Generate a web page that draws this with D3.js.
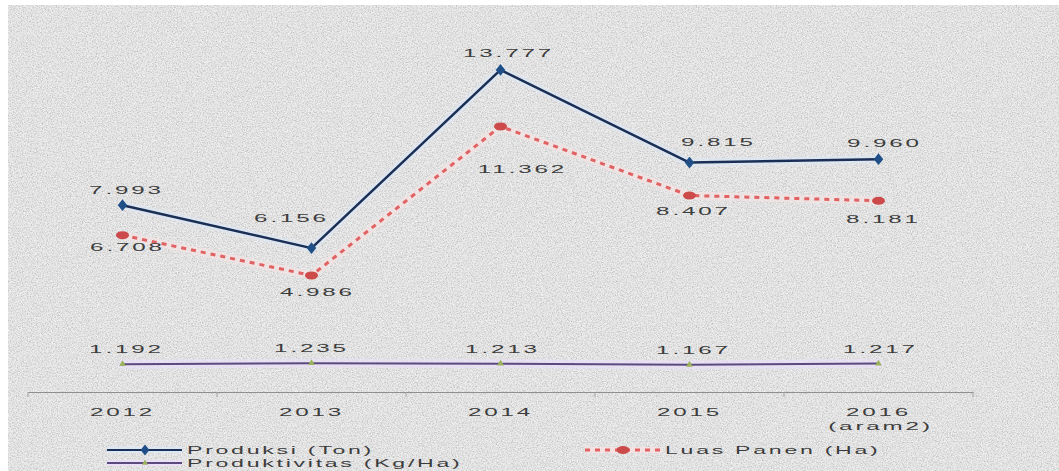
<!DOCTYPE html>
<html>
<head>
<meta charset="utf-8">
<script src="https://cdn.jsdelivr.net/npm/d3@7"></script>
<style>
  html, body { margin: 0; padding: 0; background: #ffffff; }
  svg { display: block; }
  .lbl { font-family: "Liberation Sans", Arial, sans-serif; font-size: 11px; fill: #3c3c3c; letter-spacing: 1.3px; }
</style>
</head>
<body>
<svg id="chart" width="1059" height="471"></svg>
<script>
// ---- data ----
const years = ["2012", "2013", "2014", "2015", "2016"];
const yearNotes = ["", "", "", "", "(aram2)"];
const produksi = [7993, 6156, 13777, 9815, 9960];      // Ton
const luasPanen = [6708, 4986, 11362, 8407, 8181];     // Ha
const produktivitas = [1192, 1235, 1213, 1167, 1217];  // Kg/Ha
const seriesNames = ["Produksi (Ton)", "Luas Panen (Ha)", "Produktivitas (Kg/Ha)"];

// value label offsets from each point (px)
const produksiLabelOff = [[4, -15], [-20, -30], [8, -17], [29, -21], [6, -16]];
const luasLabelOff = [[5, 12], [6, 17], [22, 43], [4, 16], [5, 18]];
const prodtvLabelOff = [[4, -15], [0, -15], [2, -15], [4, -15], [2, -15]];

const fmt = v => d3.format(",")(v).replace(/,/g, ".");

const svg = d3.select("#chart");
const W = 1059, H = 471;

// ---- textured background ----
const defs = svg.append("defs");
const grain = defs.append("filter").attr("id", "grain")
  .attr("x", 0).attr("y", 0).attr("width", "100%").attr("height", "100%");
grain.append("feTurbulence").attr("type", "fractalNoise")
  .attr("baseFrequency", 0.8).attr("numOctaves", 2).attr("seed", 7);
grain.append("feColorMatrix").attr("type", "matrix")
  .attr("values", "0 0 0 0 0  0 0 0 0 0  0 0 0 0 0  1.4 0 0 0 -0.6");
const grainLight = defs.append("filter").attr("id", "grainLight")
  .attr("x", 0).attr("y", 0).attr("width", "100%").attr("height", "100%");
grainLight.append("feTurbulence").attr("type", "fractalNoise")
  .attr("baseFrequency", 0.7).attr("numOctaves", 2).attr("seed", 19);
grainLight.append("feColorMatrix").attr("type", "matrix")
  .attr("values", "0 0 0 0 1  0 0 0 0 1  0 0 0 0 1  1.6 0 0 0 -0.55");

svg.append("rect").attr("x", 8).attr("y", 5).attr("width", W - 8).attr("height", H - 5)
  .attr("fill", "#e4e4e4");
svg.append("rect").attr("x", 8).attr("y", 5).attr("width", W - 8).attr("height", H - 5)
  .attr("filter", "url(#grainLight)").attr("opacity", 0.8);
svg.append("rect").attr("x", 8).attr("y", 5).attr("width", W - 8).attr("height", H - 5)
  .attr("filter", "url(#grain)").attr("opacity", 0.3);

// ---- scales ----
const x = d3.scaleBand().domain(years).range([28, 973]).padding(0);
const cx = yr => x(yr) + x.bandwidth() / 2;
const y = d3.scaleLinear().domain([0, 16000]).range([392, 18]);

// ---- category axis ----
const axis = d3.axisBottom(x).tickSize(0).tickFormat("");
const gAxis = svg.append("g").attr("transform", `translate(0,${y(0)})`).call(axis);
gAxis.select(".domain").attr("stroke", "#8f8f8f").attr("stroke-width", 1);
// tick marks on category boundaries
gAxis.selectAll("line.bound")
  .data(d3.range(years.length + 1))
  .join("line").attr("class", "bound")
  .attr("x1", i => x.range()[0] + i * x.step()).attr("x2", i => x.range()[0] + i * x.step())
  .attr("y1", 0).attr("y2", 5).attr("stroke", "#a0a0a0").attr("stroke-width", 1);

function stretchedText(g, px, py, str, anchor, sx) {
  g.append("g").attr("transform", `translate(${px},${py})`)
    .append("text").attr("class", "lbl")
    .attr("text-anchor", anchor || "middle")
    .attr("transform", `scale(${sx || 2.2},1)`)
    .text(str);
}

const gCat = svg.append("g");
years.forEach((yr, i) => {
  stretchedText(gCat, cx(yr), 416, yr);
  if (yearNotes[i]) stretchedText(gCat, cx(yr) + 2, 430, yearNotes[i]);
});

// ---- lines ----
const line = d3.line().x((d, i) => cx(years[i])).y(d => y(d));

function drawSeries(values, opts) {
  const g = svg.append("g");
  g.append("path").datum(values).attr("d", line).attr("fill", "none")
    .attr("stroke", opts.halo).attr("stroke-width", opts.haloW).attr("stroke-opacity", 0.7)
    .attr("stroke-linejoin", "round").attr("stroke-linecap", "round");
  g.append("path").datum(values).attr("d", line).attr("fill", "none")
    .attr("stroke", opts.color).attr("stroke-width", opts.width)
    .attr("stroke-dasharray", opts.dash || null)
    .attr("stroke-linejoin", "round");
  return g;
}

// Produktivitas
const gPt = drawSeries(produktivitas, { color: "#5b4a7e", width: 2, halo: "#eadff6", haloW: 9 });
gPt.selectAll("path.m").data(produktivitas).join("path").attr("class", "m")
  .attr("transform", (d, i) => `translate(${cx(years[i])},${y(d)})`)
  .attr("d", d3.symbol(d3.symbolTriangle, 20)).attr("fill", "#9bb35a");

// Luas Panen
const gLp = drawSeries(luasPanen, { color: "#e06262", width: 3, halo: "#f4e2e2", haloW: 8, dash: "5,5" });
gLp.selectAll("ellipse").data(luasPanen).join("ellipse")
  .attr("cx", (d, i) => cx(years[i])).attr("cy", d => y(d))
  .attr("rx", 6.5).attr("ry", 4).attr("fill", "#cc4a4a");

// Produksi
const gPr = drawSeries(produksi, { color: "#1a2f55", width: 2.5, halo: "#dde7f3", haloW: 8 });
gPr.selectAll("path.m").data(produksi).join("path").attr("class", "m")
  .attr("transform", (d, i) => `translate(${cx(years[i])},${y(d)}) scale(1.4,1)`)
  .attr("d", d3.symbol(d3.symbolDiamond, 40)).attr("fill", "#1f4f86");

// ---- value labels ----
const gLbl = svg.append("g");
produksi.forEach((v, i) => stretchedText(gLbl, cx(years[i]) + produksiLabelOff[i][0], y(v) + produksiLabelOff[i][1] + 4, fmt(v)));
luasPanen.forEach((v, i) => stretchedText(gLbl, cx(years[i]) + luasLabelOff[i][0], y(v) + luasLabelOff[i][1] + 4, fmt(v)));
produktivitas.forEach((v, i) => stretchedText(gLbl, cx(years[i]) + prodtvLabelOff[i][0], y(v) + prodtvLabelOff[i][1] + 4, fmt(v)));

// ---- legend ----
const gLeg = svg.append("g");
function legendItem(lx, ly, name, draw) {
  draw(lx, ly);
  stretchedText(gLeg, lx + 80, ly + 4, name, "start", 2.1);
}
legendItem(107, 450, seriesNames[0], (lx, ly) => {
  gLeg.append("line").attr("x1", lx).attr("x2", lx + 75).attr("y1", ly).attr("y2", ly)
    .attr("stroke", "#dde7f3").attr("stroke-width", 6);
  gLeg.append("line").attr("x1", lx).attr("x2", lx + 75).attr("y1", ly).attr("y2", ly)
    .attr("stroke", "#1a2f55").attr("stroke-width", 2);
  gLeg.append("path").attr("transform", `translate(${lx + 38},${ly}) scale(1.4,1)`)
    .attr("d", d3.symbol(d3.symbolDiamond, 35)).attr("fill", "#1f4f86");
});
legendItem(107, 463, seriesNames[2], (lx, ly) => {
  gLeg.append("line").attr("x1", lx).attr("x2", lx + 75).attr("y1", ly).attr("y2", ly)
    .attr("stroke", "#eadff6").attr("stroke-width", 6);
  gLeg.append("line").attr("x1", lx).attr("x2", lx + 75).attr("y1", ly).attr("y2", ly)
    .attr("stroke", "#5b4a7e").attr("stroke-width", 1.8);
  gLeg.append("path").attr("transform", `translate(${lx + 38},${ly})`)
    .attr("d", d3.symbol(d3.symbolTriangle, 16)).attr("fill", "#9bb35a");
});
legendItem(585, 450, seriesNames[1], (lx, ly) => {
  gLeg.append("line").attr("x1", lx).attr("x2", lx + 77).attr("y1", ly).attr("y2", ly)
    .attr("stroke", "#f4e2e2").attr("stroke-width", 6);
  gLeg.append("line").attr("x1", lx).attr("x2", lx + 77).attr("y1", ly).attr("y2", ly)
    .attr("stroke", "#e06262").attr("stroke-width", 3).attr("stroke-dasharray", "5,5");
  gLeg.append("ellipse").attr("cx", lx + 38).attr("cy", ly).attr("rx", 6.5).attr("ry", 4)
    .attr("fill", "#cc4a4a");
});
</script>
</body>
</html>
